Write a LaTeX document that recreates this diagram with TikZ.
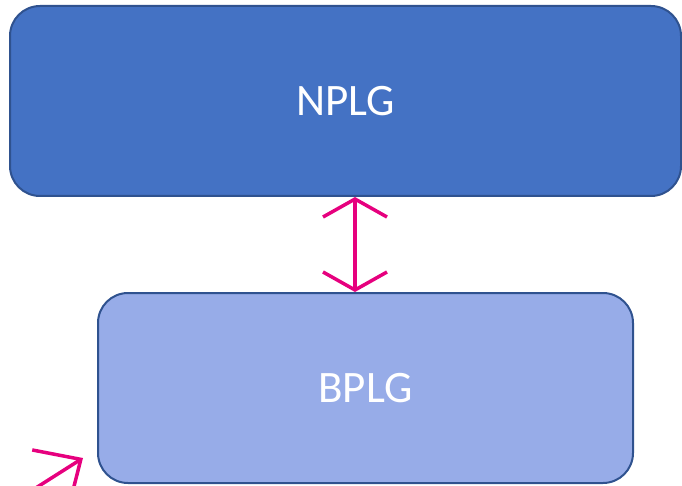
\documentclass[tikz,border=0pt]{standalone}
\usepackage{fontspec}
\setmainfont{Carlito}
\usetikzlibrary{arrows.meta}

\definecolor{topblue}{RGB}{68,114,196}
\definecolor{lowblue}{RGB}{151,172,232}
\definecolor{edgeblue}{RGB}{47,82,143}
\definecolor{pink}{RGB}{230,0,126}

\tikzset{
	layerbox/.style={draw=edgeblue, line width=2pt, rounded corners=30pt,
		text=white, font=\fontsize{45}{54}\selectfont, inner sep=0pt},
	pinkline/.style={draw=pink, line width=3.5pt},
	>={Straight Barb[length=18pt, width=64pt, line width=3.5pt]}
}

\begin{document}
\begin{tikzpicture}[x=1pt, y=-1pt]
		\useasboundingbox (0,0) rectangle (682,486);

		%% Upper layer
		\node[layerbox, fill=topblue, minimum width=671pt, minimum height=190pt]
			(nplg) at (345.5,101) {NPLG};

		%% Lower layer
		\node[layerbox, fill=lowblue, minimum width=535pt, minimum height=190pt]
			(bplg) at (365.5,388) {BPLG};

		% link between the layers
		\coordinate (link) at (355,0);
		\draw[pinkline, <->] (nplg.south -| link) -- (bplg.north -| link);

		% pointer at bottom left
		\coordinate (tail) at (20,498);
		\coordinate (pointer) at (83,458);
		\draw[pinkline, -{Straight Barb[length=36pt, width=68pt, line width=3.5pt]}]
			(tail) -- (pointer);
	\end{tikzpicture}
\end{document}
